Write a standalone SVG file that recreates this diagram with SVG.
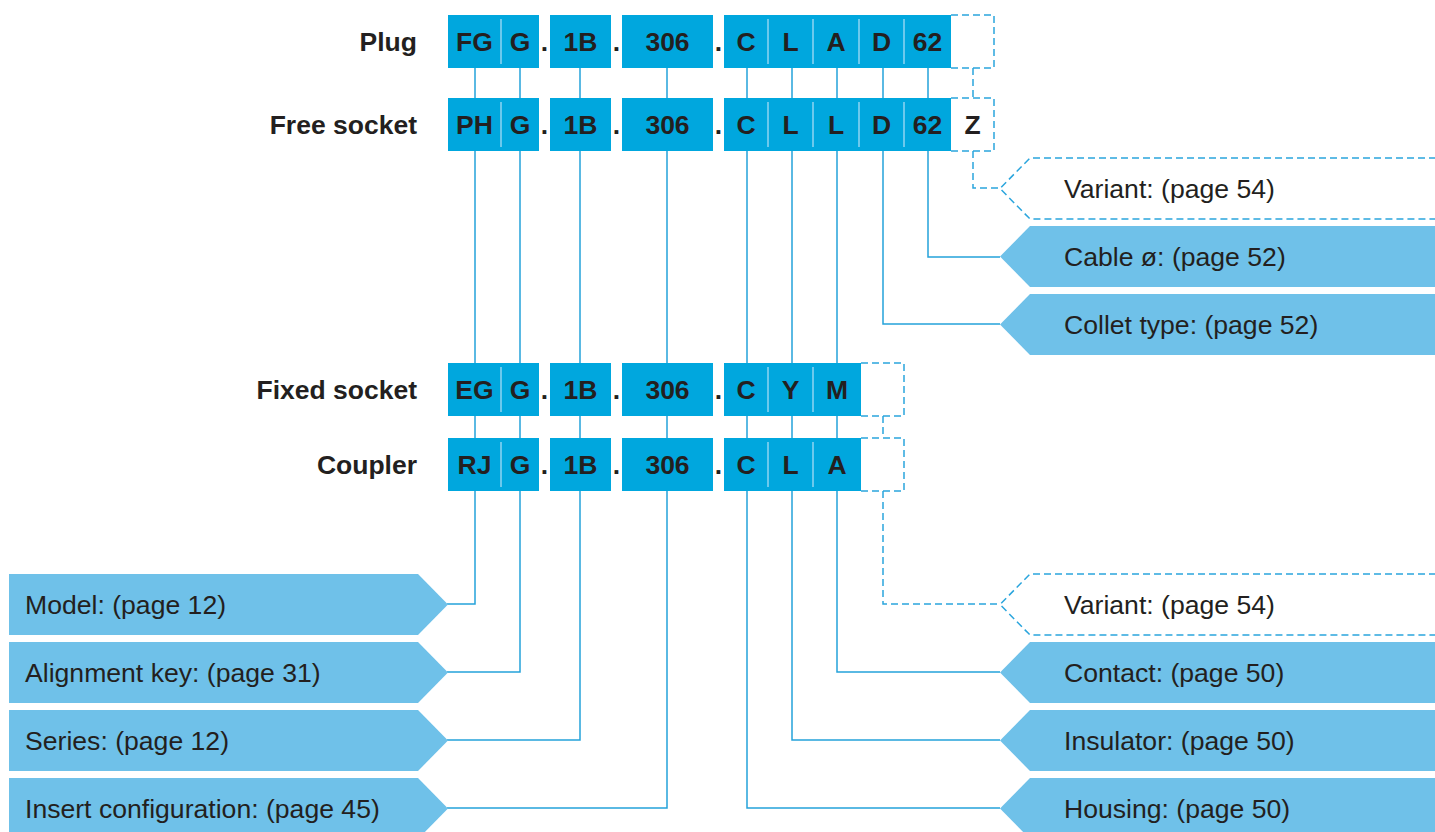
<svg xmlns="http://www.w3.org/2000/svg" width="1435" height="832" viewBox="0 0 1435 832">
<style>
.code{fill:#00a7de}
.div{stroke:#8fd4f2;stroke-width:1.5}
.ct{font-family:"Liberation Sans",Arial,sans-serif;font-weight:bold;font-size:26.5px;fill:#231f20;text-anchor:middle}
.rl{font-family:"Liberation Sans",Arial,sans-serif;font-weight:bold;font-size:26.5px;fill:#231f20;text-anchor:end}
.lb{fill:#6fc1e9}
.lt{font-family:"Liberation Sans",Arial,sans-serif;font-size:26.6px;fill:#231f20}
.dash{fill:none;stroke:#2aa5dd;stroke-width:1.5;stroke-dasharray:7,4}
.con{fill:none;stroke:#25a2da;stroke-width:1.5}
</style>
<rect width="1435" height="832" fill="#fff"/>
<g id="connectors">
<path class="con" d="M475,68V604H447"/>
<path class="con" d="M520,68V672H447"/>
<path class="con" d="M580,68V740H447"/>
<path class="con" d="M667,68V808H447"/>
<path class="con" d="M747,68V808H1000"/>
<path class="con" d="M792,68V740H1000"/>
<path class="con" d="M837,68V672H1000"/>
<path class="con" d="M883,68V324H1000"/>
<path class="con" d="M928,68V257H1000"/>
<path class="dash" d="M973,68V98"/>
<path class="dash" d="M973,151V188H1000"/>
<path class="dash" d="M883,416V438"/>
<path class="dash" d="M883,491V604H1000"/>
</g>
<g id="row-plug">
<text class="rl" x="417" y="51">Plug</text>
<rect class="code" x="448" y="15" width="91" height="53"/>
<line class="div" x1="501" y1="19" x2="501" y2="64"/>
<rect class="code" x="550" y="15" width="61" height="53"/>
<rect class="code" x="622" y="15" width="91" height="53"/>
<rect class="code" x="724" y="15" width="227" height="53"/>
<line class="div" x1="768" y1="19" x2="768" y2="64"/>
<line class="div" x1="813" y1="19" x2="813" y2="64"/>
<line class="div" x1="859" y1="19" x2="859" y2="64"/>
<line class="div" x1="904" y1="19" x2="904" y2="64"/>
<path class="dash" d="M951,15H994V68H951"/>
<text class="ct" x="474.5" y="51">FG</text>
<text class="ct" x="520" y="51">G</text>
<text class="ct" x="544.5" y="51">.</text>
<text class="ct" x="580.5" y="51">1B</text>
<text class="ct" x="616.5" y="51">.</text>
<text class="ct" x="667.5" y="51">306</text>
<text class="ct" x="718.5" y="51">.</text>
<text class="ct" x="746" y="51">C</text>
<text class="ct" x="790.5" y="51">L</text>
<text class="ct" x="836" y="51">A</text>
<text class="ct" x="881.5" y="51">D</text>
<text class="ct" x="927.5" y="51">62</text>
</g>
<g id="row-free-socket">
<text class="rl" x="417" y="134">Free socket</text>
<rect class="code" x="448" y="98" width="91" height="53"/>
<line class="div" x1="501" y1="102" x2="501" y2="147"/>
<rect class="code" x="550" y="98" width="61" height="53"/>
<rect class="code" x="622" y="98" width="91" height="53"/>
<rect class="code" x="724" y="98" width="227" height="53"/>
<line class="div" x1="768" y1="102" x2="768" y2="147"/>
<line class="div" x1="813" y1="102" x2="813" y2="147"/>
<line class="div" x1="859" y1="102" x2="859" y2="147"/>
<line class="div" x1="904" y1="102" x2="904" y2="147"/>
<path class="dash" d="M951,98H994V151H951"/>
<text class="ct" x="474.5" y="134">PH</text>
<text class="ct" x="520" y="134">G</text>
<text class="ct" x="544.5" y="134">.</text>
<text class="ct" x="580.5" y="134">1B</text>
<text class="ct" x="616.5" y="134">.</text>
<text class="ct" x="667.5" y="134">306</text>
<text class="ct" x="718.5" y="134">.</text>
<text class="ct" x="746" y="134">C</text>
<text class="ct" x="790.5" y="134">L</text>
<text class="ct" x="836" y="134">L</text>
<text class="ct" x="881.5" y="134">D</text>
<text class="ct" x="927.5" y="134">62</text>
<text class="ct" x="972.5" y="134">Z</text>
</g>
<g id="row-fixed-socket">
<text class="rl" x="417" y="399">Fixed socket</text>
<rect class="code" x="448" y="363" width="91" height="53"/>
<line class="div" x1="501" y1="367" x2="501" y2="412"/>
<rect class="code" x="550" y="363" width="61" height="53"/>
<rect class="code" x="622" y="363" width="91" height="53"/>
<rect class="code" x="724" y="363" width="137" height="53"/>
<line class="div" x1="768" y1="367" x2="768" y2="412"/>
<line class="div" x1="813" y1="367" x2="813" y2="412"/>
<path class="dash" d="M861,363H904V416H861"/>
<text class="ct" x="474.5" y="399">EG</text>
<text class="ct" x="520" y="399">G</text>
<text class="ct" x="544.5" y="399">.</text>
<text class="ct" x="580.5" y="399">1B</text>
<text class="ct" x="616.5" y="399">.</text>
<text class="ct" x="667.5" y="399">306</text>
<text class="ct" x="718.5" y="399">.</text>
<text class="ct" x="746" y="399">C</text>
<text class="ct" x="790.5" y="399">Y</text>
<text class="ct" x="837" y="399">M</text>
</g>
<g id="row-coupler">
<text class="rl" x="417" y="474">Coupler</text>
<rect class="code" x="448" y="438" width="91" height="53"/>
<line class="div" x1="501" y1="442" x2="501" y2="487"/>
<rect class="code" x="550" y="438" width="61" height="53"/>
<rect class="code" x="622" y="438" width="91" height="53"/>
<rect class="code" x="724" y="438" width="137" height="53"/>
<line class="div" x1="768" y1="442" x2="768" y2="487"/>
<line class="div" x1="813" y1="442" x2="813" y2="487"/>
<path class="dash" d="M861,438H904V491H861"/>
<text class="ct" x="474.5" y="474">RJ</text>
<text class="ct" x="520" y="474">G</text>
<text class="ct" x="544.5" y="474">.</text>
<text class="ct" x="580.5" y="474">1B</text>
<text class="ct" x="616.5" y="474">.</text>
<text class="ct" x="667.5" y="474">306</text>
<text class="ct" x="718.5" y="474">.</text>
<text class="ct" x="746" y="474">C</text>
<text class="ct" x="790.5" y="474">L</text>
<text class="ct" x="837" y="474">A</text>
</g>
<g id="label-model"><polygon class="lb" points="9,574 418,574 448,604.5 418,635 9,635"/><text class="lt" x="25" y="614">Model: (page 12)</text></g>
<g id="label-alignment"><polygon class="lb" points="9,642 418,642 448,672.5 418,703 9,703"/><text class="lt" x="25" y="682">Alignment key: (page 31)</text></g>
<g id="label-series"><polygon class="lb" points="9,710 418,710 448,740.5 418,771 9,771"/><text class="lt" x="25" y="750">Series: (page 12)</text></g>
<g id="label-insert"><polygon class="lb" points="9,778 418,778 448,808.5 418,839 9,839"/><text class="lt" x="25" y="818">Insert configuration: (page 45)</text></g>
<g id="label-variant-1"><path class="dash" d="M1436,158H1030L1000,188.5L1030,219H1436"/><text class="lt" x="1064" y="198">Variant: (page 54)</text></g>
<g id="label-cable"><polygon class="lb" points="1436,226 1030,226 1000,256.5 1030,287 1436,287"/><text class="lt" x="1064" y="266">Cable ø: (page 52)</text></g>
<g id="label-collet"><polygon class="lb" points="1436,294 1030,294 1000,324.5 1030,355 1436,355"/><text class="lt" x="1064" y="334">Collet type: (page 52)</text></g>
<g id="label-variant-2"><path class="dash" d="M1436,574H1030L1000,604.5L1030,635H1436"/><text class="lt" x="1064" y="614">Variant: (page 54)</text></g>
<g id="label-contact"><polygon class="lb" points="1436,642 1030,642 1000,672.5 1030,703 1436,703"/><text class="lt" x="1064" y="682">Contact: (page 50)</text></g>
<g id="label-insulator"><polygon class="lb" points="1436,710 1030,710 1000,740.5 1030,771 1436,771"/><text class="lt" x="1064" y="750">Insulator: (page 50)</text></g>
<g id="label-housing"><polygon class="lb" points="1436,778 1030,778 1000,808.5 1030,839 1436,839"/><text class="lt" x="1064" y="818">Housing: (page 50)</text></g>
</svg>
